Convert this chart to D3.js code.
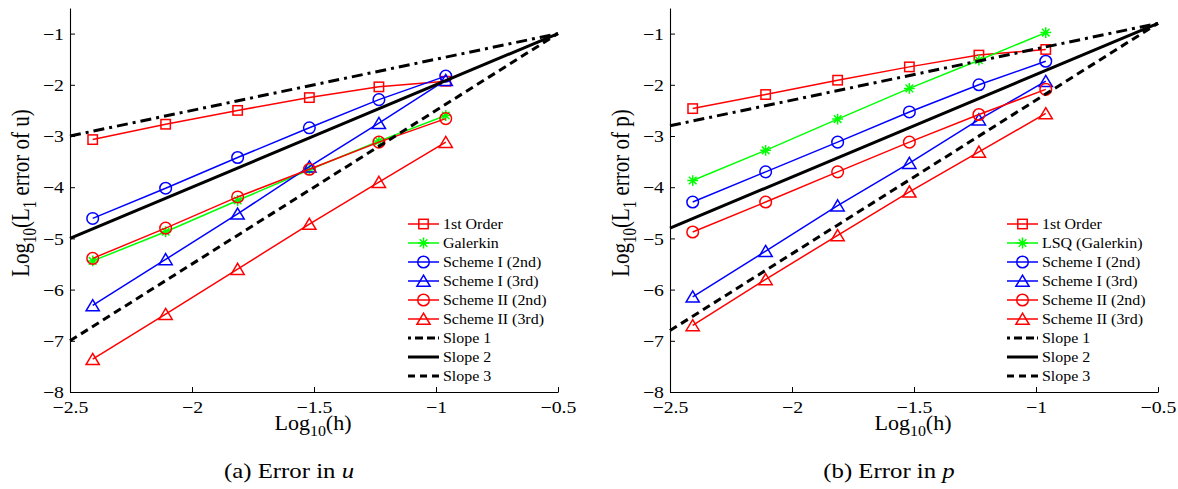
<!DOCTYPE html>
<html><head><meta charset="utf-8">
<script src="https://cdn.jsdelivr.net/npm/d3@7"></script>
<style>
html,body{margin:0;padding:0;background:#fff;}
text{font-family:"Liberation Serif","Times New Roman",serif;fill:#000;}
</style></head>
<body>
<svg id="chart" width="1178" height="489"></svg>
<script>
// ---------- data ----------
const hLog = [-2.407, -2.108, -1.813, -1.519, -1.234, -0.960];

const u_first   = [-3.07, -2.77, -2.50, -2.25, -2.04, -1.93];
const u_galerkin= [-5.44, -4.87, -4.26, -3.66, -3.10, -2.60];
const u_s1_2nd  = [-4.61, -4.02, -3.42, -2.84, -2.29, -1.83];
const u_s1_3rd  = [-6.31, -5.41, -4.52, -3.60, -2.75, -1.91];
const u_s2_2nd  = [-5.39, -4.80, -4.19, -3.65, -3.12, -2.66];
const u_s2_3rd  = [-7.36, -6.48, -5.60, -4.72, -3.90, -3.12];

const p_first   = [-2.465, -2.19, -1.91, -1.65, -1.42, -1.31];
const p_lsq     = [-3.87, -3.28, -2.67, -2.07, -1.52, -0.98];
const p_s1_2nd  = [-4.29, -3.70, -3.12, -2.53, -2.00, -1.54];
const p_s1_3rd  = [-6.14, -5.25, -4.36, -3.53, -2.68, -1.93];
const p_s2_2nd  = [-4.875, -4.29, -3.70, -3.12, -2.58, -2.09];
const p_s2_3rd  = [-6.70, -5.80, -4.94, -4.09, -3.31, -2.56];

const slopeX = [-2.5, -0.5];
const u_slope1 = [-3, -1], u_slope2 = [-5, -1], u_slope3 = [-7, -1];
const p_slope1 = [-2.8, -0.8], p_slope2 = [-4.8, -0.8], p_slope3 = [-6.8, -0.8];

const xTicks = [-2.5, -2, -1.5, -1, -0.5];
const yTicks = [-8, -7, -6, -5, -4, -3, -2, -1];
const xDomain = [-2.5, -0.5], yDomain = [-8, -0.5];

const uNames = ["1st Order", "Galerkin", "Scheme I (2nd)", "Scheme I (3rd)", "Scheme II (2nd)", "Scheme II (3rd)", "Slope 1", "Slope 2", "Slope 3"];
const pNames = ["1st Order", "LSQ (Galerkin)", "Scheme I (2nd)", "Scheme I (3rd)", "Scheme II (2nd)", "Scheme II (3rd)", "Slope 1", "Slope 2", "Slope 3"];

// ---------- styles ----------
const seriesStyle = [
  {color:"#ff0000", marker:"square"},
  {color:"#00ff00", marker:"star"},
  {color:"#0000ff", marker:"circle"},
  {color:"#0000ff", marker:"triangle"},
  {color:"#ff0000", marker:"circle"},
  {color:"#ff0000", marker:"triangle"}
];
const slopeStyle = ["11,5,3,5", null, "8,5"];
const SX = 1.2; // horizontal stretch of the glyphs seen in the reference

const svg = d3.select("#chart");
const fmt = v => (v < 0 ? "\u2212" : "") + Math.abs(v);

function drawMarker(g, type, x, y, color) {
  const s = g.append("g").attr("transform", `translate(${x},${y})`)
    .attr("fill", "none").attr("stroke", color).attr("stroke-width", 1.5);
  if (type === "square") s.append("rect").attr("x", -4.7).attr("y", -4.7).attr("width", 9.4).attr("height", 9.4);
  else if (type === "circle") s.append("circle").attr("r", 5.8);
  else if (type === "triangle") s.append("path").attr("d", "M0,-5.8L6.6,5.3L-6.6,5.3Z");
  else if (type === "star") {
    const r = 5.4, d = 3.8;
    s.append("path").attr("d", `M${-r},0L${r},0M0,${-r}L0,${r}M${-d},${-d}L${d},${d}M${-d},${d}L${d},${-d}`);
  }
}

function panel(opts) {
  const {x0, x1, series, slopes, names, legX, ylabelVar, captionX, captionText, captionVar} = opts;
  const yTop = 8, yBot = 392;
  const x = d3.scaleLinear().domain(xDomain).range([x0, x1]);
  const y = d3.scaleLinear().domain(yDomain).range([yBot, yTop]);
  const g = svg.append("g");

  // axes
  const xa = g.append("g").attr("transform", `translate(0,${yBot})`)
    .call(d3.axisBottom(x).tickValues(xTicks).tickSizeInner(-5).tickSizeOuter(0).tickPadding(9).tickFormat(fmt));
  const ya = g.append("g").attr("transform", `translate(${x0},0)`)
    .call(d3.axisLeft(y).tickValues(yTicks).tickSizeInner(-5).tickSizeOuter(0).tickPadding(6).tickFormat(fmt));
  [xa, ya].forEach(a => {
    a.attr("font-family", "Liberation Serif").attr("font-size", 16.5);
    a.select(".domain").attr("stroke", "#000").attr("stroke-width", 1.1);
    a.selectAll(".tick line").attr("stroke", "#000").attr("stroke-width", 1);
    a.selectAll(".tick text").attr("font-size", 16.5).attr("font-family", "Liberation Serif")
      .attr("fill", "#000").attr("transform", `scale(${SX},1)`);
  });
  xa.selectAll(".tick text").attr("y", 9);
  ya.selectAll(".tick text").attr("dy", "0.34em").attr("x", -6 / SX);

  const line = d3.line().x(d => x(d[0])).y(d => y(d[1]));

  // series
  series.forEach((vals, i) => {
    const st = seriesStyle[i];
    const pts = hLog.map((h, j) => [h, vals[j]]);
    g.append("path").attr("d", line(pts)).attr("fill", "none")
      .attr("stroke", st.color).attr("stroke-width", 1.5);
    pts.forEach(p => drawMarker(g, st.marker, x(p[0]), y(p[1]), st.color));
  });
  // slopes
  slopes.forEach((vals, i) => {
    const pts = slopeX.map((h, j) => [h, vals[j]]);
    const p = g.append("path").attr("d", line(pts)).attr("fill", "none")
      .attr("stroke", "#000").attr("stroke-width", 3);
    if (slopeStyle[i]) p.attr("stroke-dasharray", slopeStyle[i]);
  });

  // legend
  const rowY0 = 224, rowH = 19;
  names.forEach((name, i) => {
    const ry = rowY0 + i * rowH;
    const lx0 = legX, lx1 = legX + 31;
    const ln = g.append("line").attr("x1", lx0).attr("x2", lx1).attr("y1", ry).attr("y2", ry)
      .attr("stroke", i < 6 ? seriesStyle[i].color : "#000")
      .attr("stroke-width", i < 6 ? 1.5 : 3);
    if (i >= 6 && slopeStyle[i - 6]) ln.attr("stroke-dasharray", i === 6 ? "3,4,8,4,8" : "7,5");
    if (i < 6) drawMarker(g, seriesStyle[i].marker, (lx0 + lx1) / 2, ry, seriesStyle[i].color);
    g.append("g").attr("transform", `translate(${lx1 + 4},${ry}) scale(1.14,1)`)
      .append("text").attr("dy", "0.35em").attr("font-size", 14).text(name);
  });

  // x label
  const xl = g.append("g").attr("transform", `translate(${(x0 + x1) / 2 - 1},429.5) scale(1.1,1)`)
    .append("text").attr("text-anchor", "middle").attr("font-size", 20);
  xl.append("tspan").text("Log");
  xl.append("tspan").attr("font-size", 14.5).attr("dy", 6).text("10");
  xl.append("tspan").attr("dy", -6).text("(h)");

  // y label
  const yl = g.append("g").attr("transform", `translate(${x0 - 41},${(yTop + yBot) / 2 - 7}) rotate(-90) scale(1,1.2)`)
    .append("text").attr("text-anchor", "middle").attr("font-size", 21);
  yl.append("tspan").text("Log");
  yl.append("tspan").attr("font-size", 15).attr("dy", 6).text("10");
  yl.append("tspan").attr("dy", -6).text("(L");
  yl.append("tspan").attr("font-size", 15).attr("dy", 6).text("1");
  yl.append("tspan").attr("dy", -6).text(" error of " + ylabelVar + ")");

  // caption
  const cap = g.append("g").attr("transform", `translate(${captionX},478) scale(1.24,1)`)
    .append("text").attr("text-anchor", "middle").attr("font-size", 20);
  cap.append("tspan").text(captionText);
  cap.append("tspan").attr("font-style", "italic").text(captionVar);
}

panel({x0: 70, x1: 558,
  series: [u_first, u_galerkin, u_s1_2nd, u_s1_3rd, u_s2_2nd, u_s2_3rd],
  slopes: [u_slope1, u_slope2, u_slope3], names: uNames, legX: 408,
  ylabelVar: "u", captionX: 289, captionText: "(a)  Error in ", captionVar: "u"});
panel({x0: 670, x1: 1158,
  series: [p_first, p_lsq, p_s1_2nd, p_s1_3rd, p_s2_2nd, p_s2_3rd],
  slopes: [p_slope1, p_slope2, p_slope3], names: pNames, legX: 1007,
  ylabelVar: "p", captionX: 889, captionText: "(b)  Error in ", captionVar: "p"});
</script>
</body></html>
